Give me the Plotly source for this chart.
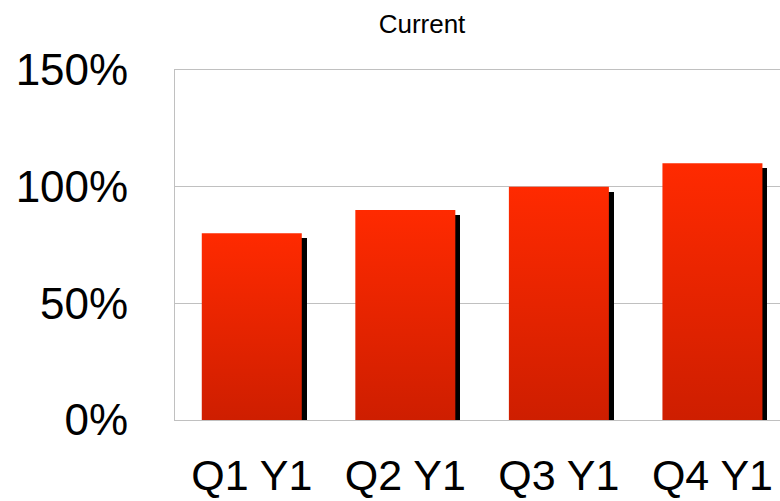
import plotly.graph_objects as go

categories = ["Q1 Y1", "Q2 Y1", "Q3 Y1", "Q4 Y1"]
values = [0.80, 0.90, 1.00, 1.10]
y_ticks = [0, 0.5, 1.0, 1.5]
y_tick_labels = ["0%", "50%", "100%", "150%"]
title_text = "Current"

W, H = 780, 501
L, R, T, B = 175, 0, 70, 81
x_range = [-0.5, 3.44]
y_range = [0, 1.5]
px_per_x = (W - L - R) / (x_range[1] - x_range[0])
px_per_y = (H - T - B) / (y_range[1] - y_range[0])
bar_w = 100 / px_per_x
sh_dx = 5 / px_per_x
sh_dy = 5 / px_per_y

FONT = "Liberation Sans, Arial, sans-serif"
idx = list(range(len(categories)))

fig = go.Figure()

# shadows
fig.add_trace(go.Bar(
    x=[i + sh_dx for i in idx],
    y=[v - sh_dy for v in values],
    width=bar_w,
    marker=dict(color="#000000", line=dict(width=0)),
    hoverinfo="skip",
    showlegend=False,
))

# bar faces with vertical gradient
for i, v in zip(idx, values):
    x0, x1 = i - bar_w / 2, i + bar_w / 2
    fig.add_trace(go.Scatter(
        x=[x0, x1, x1, x0, x0],
        y=[0, 0, v, v, 0],
        mode="lines",
        line=dict(width=0, color="rgba(0,0,0,0)"),
        fill="toself",
        fillcolor="#EE2400",
        fillgradient=dict(type="vertical",
                          colorscale=[[0, "#CE1E00"], [1, "#FF2A00"]]),
        hoverinfo="skip",
        showlegend=False,
        name=categories[i],
    ))

fig.update_layout(
    width=W, height=H,
    margin=dict(l=L, r=R, t=T, b=B, pad=0, autoexpand=False),
    paper_bgcolor="white",
    plot_bgcolor="white",
    font=dict(family=FONT, color="black"),
    title=dict(text=title_text, font=dict(size=26, family=FONT, color="black"),
               x=422 / W, xanchor="center", xref="container",
               y=1 - 24 / H, yanchor="middle", yref="container",
               automargin=False),
    bargap=0,
)

fig.update_xaxes(
    range=x_range, tickvals=idx, ticktext=categories,
    tickfont=dict(size=43, family=FONT, color="black"),
    showgrid=False, zeroline=False,
    showline=True, linecolor="#C0C0C0", linewidth=1, mirror=True,
    ticks="", ticklabelstandoff=17, automargin=False,
    fixedrange=True,
)
fig.update_yaxes(
    range=y_range, tickvals=y_ticks, ticktext=y_tick_labels,
    tickfont=dict(size=44, family=FONT, color="black"),
    showgrid=True, gridcolor="#C0C0C0", gridwidth=1,
    zeroline=False, showline=True, linecolor="#C0C0C0", linewidth=1,
    ticks="", ticklabelstandoff=37, automargin=False,
    fixedrange=True,
)

fig.write_html("out.html")
